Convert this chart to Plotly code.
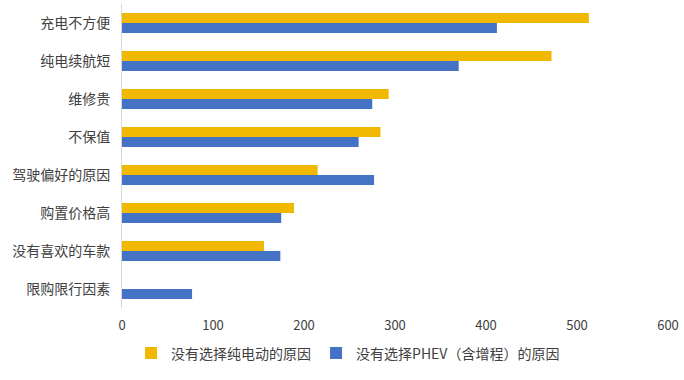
import plotly.graph_objects as go

categories = ["充电不方便", "纯电续航短", "维修贵", "不保值", "驾驶偏好的原因", "购置价格高", "没有喜欢的车款", "限购限行因素"]
bev_values = [513, 472, 293, 284, 215, 189, 156, 0]
phev_values = [412, 370, 275, 260, 277, 175, 174, 77]
series_names = ["没有选择纯电动的原因", "没有选择PHEV（含增程）的原因"]
x_ticks = [0, 100, 200, 300, 400, 500, 600]

fig = go.Figure()
fig.add_trace(go.Bar(y=categories, x=bev_values, orientation="h", name=series_names[0],
                     marker=dict(color="#F0B800", line=dict(width=0))))
fig.add_trace(go.Bar(y=categories, x=phev_values, orientation="h", name=series_names[1],
                     marker=dict(color="#4472C4", line=dict(width=0))))

font_family = "Noto Sans CJK SC, Noto Sans, sans-serif"
fig.update_layout(
    width=684, height=380,
    margin=dict(l=122, r=16, t=4, b=72, autoexpand=False),
    plot_bgcolor="white", paper_bgcolor="white",
    barmode="group", bargap=0.47, bargroupgap=0,
    font=dict(family=font_family, size=14, color="#404040"),
    legend=dict(orientation="h", x=0.414, xanchor="center", y=-0.097, yanchor="top",
                font=dict(size=14, color="#404040"), itemwidth=30, traceorder="normal"),
    showlegend=True,
)
fig.update_xaxes(range=[0, 600], tickvals=x_ticks, showgrid=False, zeroline=False,
                 showline=False, ticks="", automargin=False, ticklabelstandoff=8,
                 tickfont=dict(size=13, color="#404040"))
fig.update_yaxes(autorange="reversed", showgrid=False, showline=True, linecolor="#D9D9D9",
                 linewidth=1, ticks="", ticklabelstandoff=8, automargin=False,
                 tickfont=dict(size=14, color="#404040"))

fig.write_html("out.html", config={"displayModeBar": False},
               post_script="document.body.style.margin='0';document.body.style.overflow='hidden';")
